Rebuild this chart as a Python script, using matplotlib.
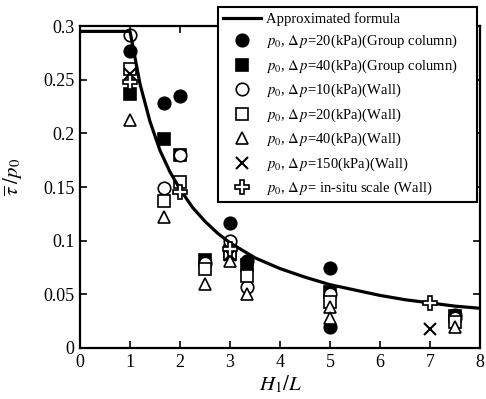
import matplotlib
matplotlib.use("Agg")
import matplotlib.pyplot as plt

plt.rcParams['font.family'] = ['Liberation Serif', 'DejaVu Serif']
plt.rcParams['mathtext.fontset'] = 'stix'

# Approximated formula curve
curve_x = [0, 1, 1.2, 1.4, 1.6, 1.8, 2, 2.25, 2.5, 2.75, 3, 3.5, 4, 4.5, 5, 5.5, 6, 6.5, 7, 7.5, 8]
curve_y = [0.295, 0.295, 0.246, 0.211, 0.184, 0.164, 0.148, 0.131, 0.118, 0.107, 0.098,
           0.084, 0.074, 0.066, 0.059, 0.054, 0.049, 0.045, 0.042, 0.039, 0.037]

# Group column, dp=20 kPa (filled circle)
gc20_x = [1, 1.67, 2, 3, 3.33, 5, 5, 7.5]
gc20_y = [0.277, 0.228, 0.235, 0.116, 0.081, 0.075, 0.020, 0.031]
# Group column, dp=40 kPa (filled square)
gc40_x = [1, 1.67, 2, 2.5, 3, 3.33, 5, 7.5]
gc40_y = [0.237, 0.195, 0.180, 0.082, 0.090, 0.077, 0.052, 0.030]
# Wall, dp=10 kPa (open circle)
w10_x = [1, 1.67, 2, 2.5, 3, 3.33, 5, 7.5]
w10_y = [0.292, 0.149, 0.180, 0.079, 0.100, 0.057, 0.050, 0.028]
# Wall, dp=20 kPa (open square)
w20_x = [1, 1.67, 2, 2.5, 3, 3.33, 5, 7.5]
w20_y = [0.260, 0.137, 0.155, 0.074, 0.088, 0.067, 0.043, 0.024]
# Wall, dp=40 kPa (open triangle)
w40_x = [1, 1.67, 2.5, 3, 3.33, 5, 5, 7.5]
w40_y = [0.212, 0.122, 0.060, 0.081, 0.050, 0.038, 0.028, 0.020]
# Wall, dp=150 kPa (x)
w150_x = [1, 3, 7]
w150_y = [0.255, 0.087, 0.018]
# Wall, in-situ scale (open plus)
wis_x = [1, 2, 3, 7]
wis_y = [0.248, 0.145, 0.092, 0.042]

labels = [
    'Approximated formula',
    r'$p_0$, $\Delta\,p$=20(kPa)(Group column)',
    r'$p_0$, $\Delta\,p$=40(kPa)(Group column)',
    r'$p_0$, $\Delta\,p$=10(kPa)(Wall)',
    r'$p_0$, $\Delta\,p$=20(kPa)(Wall)',
    r'$p_0$, $\Delta\,p$=40(kPa)(Wall)',
    r'$p_0$, $\Delta\,p$=150(kPa)(Wall)',
    r'$p_0$, $\Delta\,p$= in-situ scale (Wall)',
]

fig = plt.figure(figsize=(4.86, 3.99), dpi=100)
ax = fig.add_axes([80/486, 51/399, 400/486, 322/399])

ms = 9
mew = 1.2
ax.plot(curve_x, curve_y, color='black', lw=2.3, zorder=5, label=labels[0])
ax.plot(gc20_x, gc20_y, 'o', ms=ms, mfc='black', mec='black', mew=mew, ls='none', label=labels[1], zorder=3)
ax.plot(gc40_x, gc40_y, 's', ms=ms, mfc='black', mec='black', mew=mew, ls='none', label=labels[2], zorder=3)
ax.plot(w10_x, w10_y, 'o', ms=ms, mfc='white', mec='black', mew=mew, ls='none', label=labels[3], zorder=4)
ax.plot(w20_x, w20_y, 's', ms=ms, mfc='white', mec='black', mew=mew, ls='none', label=labels[4], zorder=4)
ax.plot(w40_x, w40_y, '^', ms=ms, mfc='white', mec='black', mew=mew, ls='none', label=labels[5], zorder=4)
ax.plot(w150_x, w150_y, 'x', ms=ms, mec='black', mew=1.5, ls='none', label=labels[6], zorder=4)
ax.plot(wis_x, wis_y, 'P', ms=ms + 1, mfc='white', mec='black', mew=mew, ls='none', label=labels[7], zorder=6)

ax.set_xlim(0, 8)
ax.set_ylim(0, 0.3)
ax.set_xticks(range(0, 9))
ax.set_yticks([0, 0.05, 0.1, 0.15, 0.2, 0.25, 0.3])
ax.set_yticklabels(['0', '0.05', '0.1', '0.15', '0.2', '0.25', '0.3'])
ax.tick_params(direction='in', top=True, right=True, length=5, width=1.2,
               labelsize=13, pad=4)
for s in ax.spines.values():
    s.set_linewidth(1.6)

ax.set_xlabel(r'$H_1/L$', fontsize=15, labelpad=2)
ax.set_ylabel(r'$\overline{\tau}\;/p_0$', fontsize=15)
ax.yaxis.set_label_coords(-0.14, 0.53)

leg = ax.legend(loc='upper left', bbox_to_anchor=(0.345, 0.5, 0.6475, 0.559),
                mode='expand', fontsize=10.5,
                frameon=True, fancybox=False, edgecolor='black', framealpha=1,
                handlelength=2.6, handletextpad=0.35, labelspacing=0.49,
                borderpad=0.35, borderaxespad=0.0)
leg.get_frame().set_linewidth(1.5)
leg.set_zorder(10)

fig.savefig('out.png', dpi=100)
